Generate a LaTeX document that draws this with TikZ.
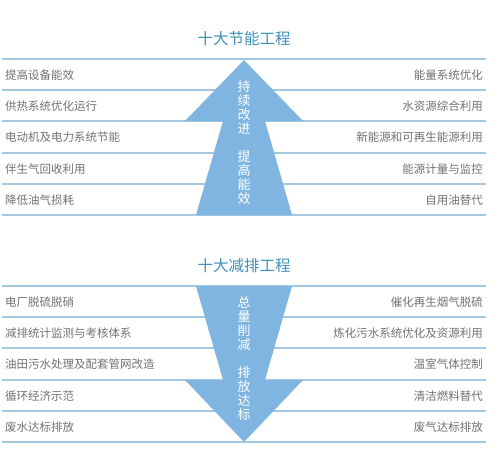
\documentclass[tikz,border=0pt]{standalone}
\usepackage{fontspec}
\setmainfont{Noto Sans CJK SC}
\definecolor{lineblue}{HTML}{A3C8DF}
\definecolor{arrowblue}{HTML}{7FB5E0}
\definecolor{titleblue}{HTML}{3F8FB8}
\definecolor{txtgray}{HTML}{727272}
\begin{document}
\begin{tikzpicture}[x=1pt,y=-1pt,
  sep/.style={draw=lineblue, line width=1.1pt},
  lefttxt/.style={anchor=west, inner sep=0pt, text=txtgray, font=\fontsize{11.5}{12}\selectfont},
  righttxt/.style={anchor=east, inner sep=0pt, text=txtgray, font=\fontsize{11.5}{12}\selectfont},
  titletxt/.style={inner sep=0pt, text=titleblue, font=\fontsize{15.5}{16}\selectfont},
  arrowshape/.style={fill=arrowblue, draw=none},
  arrowtxt/.style={inner sep=0pt, text=white, align=center, font=\fontsize{13}{14}\selectfont}]
\useasboundingbox (0,0) rectangle (500,461);
% ---------- top section ----------
\node[titletxt] (t1) at (244,39) {十大节能工程};
\foreach \y [count=\i] in {59,90,121,153,184,215}{
  \coordinate (a\i) at (2,\y); \coordinate (b\i) at (486,\y);
  \draw[sep] (a\i) -- (b\i);
}
\path[arrowshape] (244,60) -- (303,121) -- (265,121) -- (292,215) -- (196,215) -- (223,121) -- (185,121) -- cycle;
\node[arrowtxt] (up) at (244,143) {持\\续\\改\\进\\[14pt]提\\高\\能\\效};
\node[lefttxt] (l1) at (5,75) {提高设备能效};
\node[lefttxt] (l2) at (5,106) {供热系统优化运行};
\node[lefttxt] (l3) at (5,137) {电动机及电力系统节能};
\node[lefttxt] (l4) at (5,169) {伴生气回收利用};
\node[lefttxt] (l5) at (5,200) {降低油气损耗};
\node[righttxt] (r1) at (483,75) {能量系统优化};
\node[righttxt] (r2) at (483,106) {水资源综合利用};
\node[righttxt] (r3) at (483,137) {新能源和可再生能源利用};
\node[righttxt] (r4) at (483,169) {能源计量与监控};
\node[righttxt] (r5) at (483,200) {自用油替代};
% ---------- bottom section ----------
\node[titletxt] (t2) at (244,266) {十大减排工程};
\foreach \y [count=\i] in {286,317,348,380,411,442}{
  \coordinate (c\i) at (2,\y); \coordinate (d\i) at (486,\y);
  \draw[sep] (c\i) -- (d\i);
}
\path[arrowshape] (196,286) -- (292,286) -- (265,380) -- (303,380) -- (244,442) -- (185,380) -- (223,380) -- cycle;
\node[arrowtxt] (down) at (244,359) {总\\量\\削\\减\\[14pt]排\\放\\达\\标};
\node[lefttxt] (l6) at (5,302) {电厂脱硫脱硝};
\node[lefttxt] (l7) at (5,333) {减排统计监测与考核体系};
\node[lefttxt] (l8) at (5,364) {油田污水处理及配套管网改造};
\node[lefttxt] (l9) at (5,396) {循环经济示范};
\node[lefttxt] (l10) at (5,427) {废水达标排放};
\node[righttxt] (r6) at (483,302) {催化再生烟气脱硫};
\node[righttxt] (r7) at (483,333) {炼化污水系统优化及资源利用};
\node[righttxt] (r8) at (483,364) {温室气体控制};
\node[righttxt] (r9) at (483,396) {清洁燃料替代};
\node[righttxt] (r10) at (483,427) {废气达标排放};
\end{tikzpicture}
\end{document}
